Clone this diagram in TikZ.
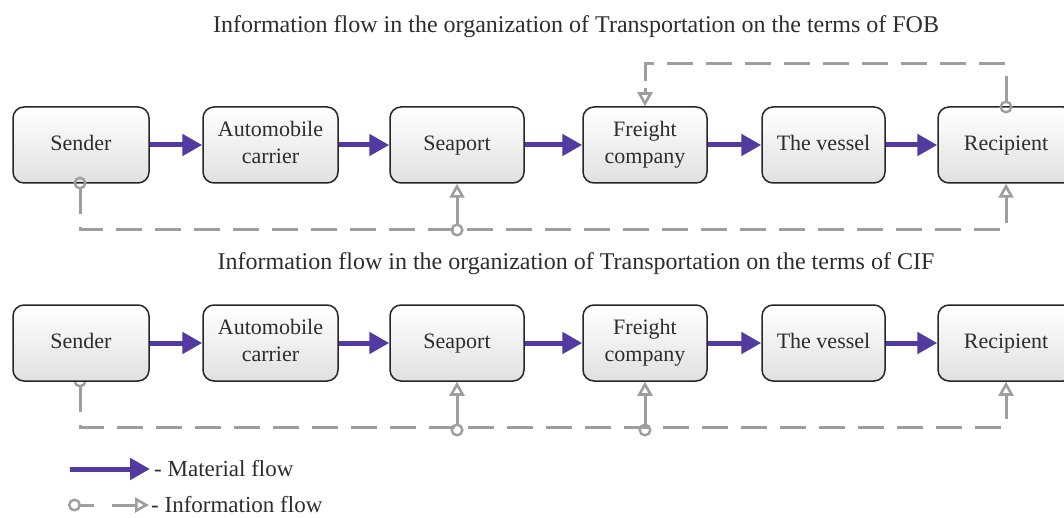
\documentclass[tikz,border=0pt]{standalone}
\usepackage{fontspec}
\setmainfont{Liberation Serif}
\usetikzlibrary{arrows.meta,calc}
\definecolor{matpurple}{RGB}{82,58,160}
\definecolor{infogray}{RGB}{158,158,158}
\definecolor{txt}{RGB}{45,45,45}
\begin{document}
\begin{tikzpicture}[x=1pt,y=-1pt,
  box/.style={draw=black!85,line width=1.5pt,rounded corners=11pt,top color=white,bottom color=black!12,
    minimum height=76pt,align=center,text=txt,font=\fontsize{22}{27}\selectfont,inner sep=0pt},
  mat/.style={draw=matpurple,line width=5pt,-{Triangle[length=20pt,width=21pt]}},
  info/.style={draw=infogray,line width=3pt,dash pattern=on 26pt off 13pt},
  infosolid/.style={draw=infogray,line width=3pt},
  tri/.style={-{Triangle[open,length=14pt,width=15pt,line width=2.6pt]}},
  circ/.style={{Circle[open,length=13pt,width=13pt,line width=2.4pt]}-},
  circtri/.style={{Circle[open,length=13pt,width=13pt,line width=2.4pt]}-{Triangle[open,length=14pt,width=15pt,line width=2.6pt]}},
  title/.style={text=txt,font=\fontsize{24}{28}\selectfont,anchor=base,inner sep=0pt},
  leg/.style={text=txt,font=\fontsize{23}{26}\selectfont,anchor=west,inner sep=0pt}]
\useasboundingbox (0,0) rectangle (1064,518);
\fill[white] (0,0) rectangle (1064,518);

% titles
\node[title] (t1) at (576,33) {Information flow in the organization of Transportation on the terms of FOB};
\node[title] (t2) at (576,270) {Information flow in the organization of Transportation on the terms of CIF};

% ---------- info flow, CIF (sender path drawn behind the boxes) ----------
\coordinate (c2s) at (80,374.5);
\coordinate (k2a) at (80,427);
\coordinate (k2b) at (1006,427);
\coordinate (k2c) at (1006,405);
\draw[info,circ] (c2s) -- (k2a) -- (k2b) -- (k2c);

% ---------- row 1 boxes ----------
\node[box,minimum width=136pt] (s1) at (81,145) {\strut Sender};
\node[box,minimum width=135pt] (a1) at (270.5,145) {\strut Automobile\\\strut carrier};
\node[box,minimum width=134pt] (p1) at (457,145) {\strut Seaport};
\node[box,minimum width=124pt] (f1) at (645,145) {\strut Freight\\\strut company};
\node[box,minimum width=123pt] (v1) at (823.5,145) {\strut The vessel};
\node[box,minimum width=136pt] (r1) at (1006,145) {\strut Recipient};

% ---------- row 2 boxes ----------
\node[box,minimum width=136pt] (s2) at (81,343) {\strut Sender};
\node[box,minimum width=135pt] (a2) at (270.5,343) {\strut Automobile\\\strut carrier};
\node[box,minimum width=134pt] (p2) at (457,343) {\strut Seaport};
\node[box,minimum width=124pt] (f2) at (645,343) {\strut Freight\\\strut company};
\node[box,minimum width=123pt] (v2) at (823.5,343) {\strut The vessel};
\node[box,minimum width=136pt] (r2) at (1006,343) {\strut Recipient};

% material flow
\foreach \a/\b in {s1/a1,a1/p1,p1/f1,f1/v1,v1/r1,s2/a2,a2/p2,p2/f2,f2/v2,v2/r2}
  \draw[mat] (\a.east) -- (\b.west);

% ---------- info flow, FOB ----------
\coordinate (c1s) at (80,176.5);
\coordinate (k1a) at (80,230);
\coordinate (k1b) at (1006,230);
\coordinate (k1e) at (1006,205);
\draw[info,circ] (c1s) -- (k1a) -- (k1b) -- (k1e);
\draw[infosolid,tri] (k1e) -- (r1.south -| k1b);
\coordinate (c1p) at (457,236.5);
\draw[infosolid,circtri] (c1p) -- (p1.south);
\coordinate (c1r) at (1006,113.5);
\coordinate (k1c) at (1006,64);
\coordinate (k1d) at (645,64);
\coordinate (k1f) at (645,88);
\draw[info,circ] (c1r) -- (k1c) -- (k1d) -- (k1f);
\draw[infosolid,tri] (k1f) -- (f1.north);

% ---------- info flow, CIF (rest) ----------
\draw[infosolid,tri] (k2c) -- (r2.south -| k2b);
\coordinate (c2p) at (457,436.5);
\draw[infosolid,circtri] (c2p) -- (p2.south);
\coordinate (c2f) at (645,436.5);
\draw[infosolid,circtri] (c2f) -- (f2.south);

% ---------- legend ----------
\coordinate (l1a) at (70,469);
\coordinate (l1b) at (150,469);
\draw[mat] (l1a) -- (l1b);
\node[leg] (l1t) at (154,469) {- Material flow};
\coordinate (l2a) at (68,505);
\coordinate (l2b) at (94,505);
\draw[infosolid,circ] (l2a) -- (l2b);
\coordinate (l2c) at (112,505);
\coordinate (l2d) at (149,505);
\draw[infosolid,tri] (l2c) -- (l2d);
\node[leg] (l2t) at (151,505) {- Information flow};
\end{tikzpicture}
\end{document}
